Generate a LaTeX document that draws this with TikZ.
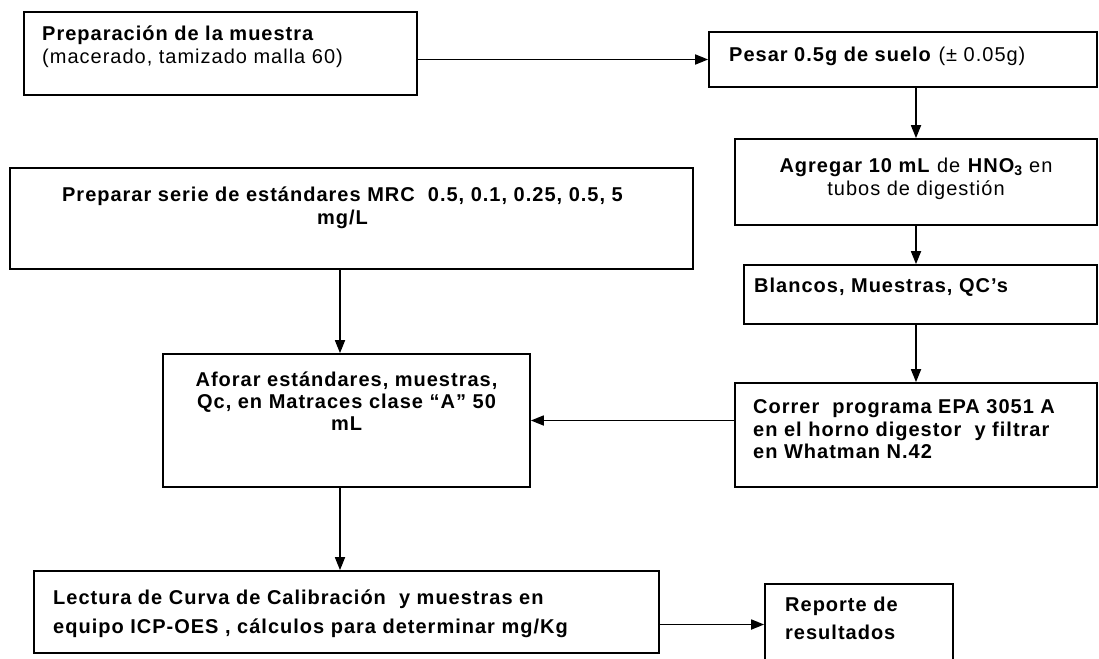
\documentclass[tikz,border=0pt]{standalone}
\usepackage{fontspec}
\setmainfont{Liberation Sans}[LetterSpace=5]
\usetikzlibrary{arrows.meta}
\begin{document}
\begin{tikzpicture}[x=1pt,y=-1pt,
  box/.style={draw=black,line width=1.7pt,rectangle,inner sep=0pt},
  lbl/.style={inner sep=0pt,font=\fontsize{20}{22}\selectfont},
  arr/.style={line width=1.7pt,-{Triangle[length=13pt,width=10pt]}}]
\useasboundingbox[fill=white] (0,0) rectangle (1099,658);
% boxes
\node[box,minimum width=393pt,minimum height=83pt] (b1) at (220.5,53.5) {};
\node[box,minimum width=388pt,minimum height=55pt] (b2) at (903,59.5) {};
\node[box,minimum width=362pt,minimum height=86pt] (b3) at (916,182) {};
\node[box,minimum width=353pt,minimum height=59pt] (b4) at (920.5,294.5) {};
\node[box,minimum width=362pt,minimum height=104pt] (b5) at (916,435) {};
\node[box,minimum width=683pt,minimum height=101pt] (b6) at (351.5,218.5) {};
\node[box,minimum width=367pt,minimum height=133pt] (b7) at (346.5,420.5) {};
\node[box,minimum width=625pt,minimum height=82pt] (b8) at (346.5,612) {};
\node[box,minimum width=188pt,minimum height=81pt] (b9) at (859,624.5) {};
% texts
\node[lbl,anchor=base west] (t1a) at (42,41) {\textbf{Preparación de la muestra}};
\node[lbl,anchor=base west] (t1b) at (42,64) {(macerado, tamizado malla 60)};
\node[lbl,anchor=base west] (t2) at (729,62) {\textbf{Pesar 0.5g de suelo} (± 0.05g)};
\node[lbl,anchor=base] (t3a) at (916,172) {\textbf{Agregar 10 mL} de \textbf{HNO\textsubscript{3}} en};
\node[lbl,anchor=base] (t3b) at (916,195) {tubos de digestión};
\node[lbl,anchor=base west] (t4) at (754,292) {\textbf{Blancos, Muestras, QC’s}};
\node[lbl,anchor=base west] (t5a) at (753,413) {\textbf{Correr\ \ programa EPA 3051 A}};
\node[lbl,anchor=base west] (t5b) at (753,436) {\textbf{en el horno digestor\ \ y filtrar}};
\node[lbl,anchor=base west] (t5c) at (753,458) {\textbf{en Whatman N.42}};
\node[lbl,anchor=base] (t6a) at (343,201) {\textbf{Preparar serie de estándares MRC\ \ 0.5, 0.1, 0.25, 0.5, 5}};
\node[lbl,anchor=base] (t6b) at (343,224) {\textbf{mg/L}};
\node[lbl,anchor=base] (t7a) at (347,386) {\textbf{Aforar estándares, muestras,}};
\node[lbl,anchor=base] (t7b) at (347,408) {\textbf{Qc, en Matraces clase “A” 50}};
\node[lbl,anchor=base] (t7c) at (347,430) {\textbf{mL}};
\node[lbl,anchor=base west] (t8a) at (53,604) {\textbf{Lectura de Curva de Calibración\ \ y muestras en}};
\node[lbl,anchor=base west] (t8b) at (53,633) {\textbf{equipo ICP-OES , cálculos para determinar mg/Kg}};
\node[lbl,anchor=base west] (t9a) at (785,611) {\textbf{Reporte de}};
\node[lbl,anchor=base west] (t9b) at (785,639) {\textbf{resultados}};
% connectors
\coordinate (ax) at (340,0);
\draw[arr] (b1.east |- b2.west) -- (b2.west);
\draw[arr] (b3.north |- b2.south) -- (b3.north);
\draw[arr] (b3.south) -- (b3.south |- b4.north);
\draw[arr] (b5.north |- b4.south) -- (b5.north);
\draw[arr] (b5.west |- b7.east) -- (b7.east);
\draw[arr] (b6.south -| ax) -- (b7.north -| ax);
\draw[arr] (b7.south -| ax) -- (b8.north -| ax);
\draw[arr] (b8.east |- b9.west) -- (b9.west);
\end{tikzpicture}
\end{document}
